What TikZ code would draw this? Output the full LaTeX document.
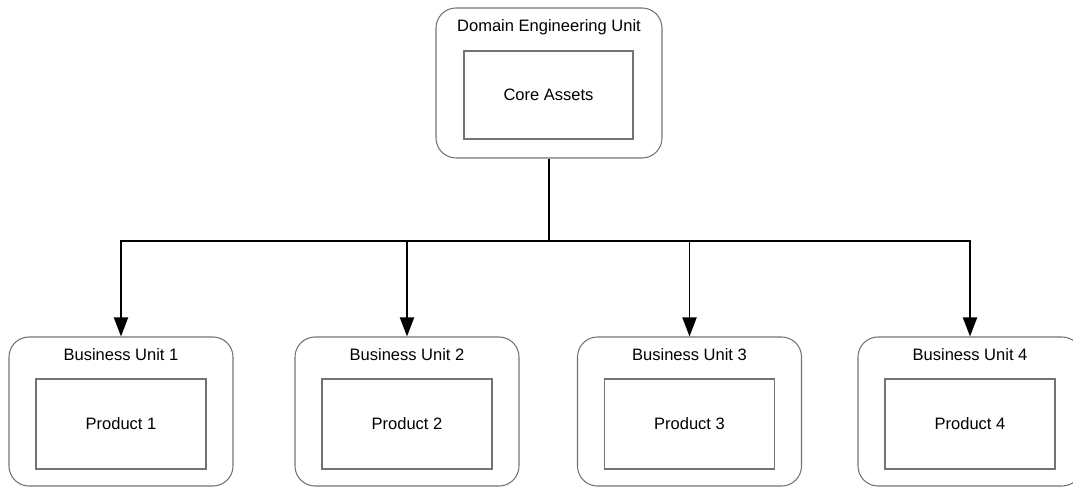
\documentclass[tikz,border=0pt]{standalone}
\usepackage{fontspec}
\setmainfont{Liberation Sans}
\usetikzlibrary{arrows.meta}
\tikzset{
  unit/.style={draw=black!55,rounded corners=0.4cm,line width=0.6pt,minimum width=4.48cm,minimum height=2.98cm},
  part/.style={draw=black!55,line width=0.6pt,minimum width=3.4cm,minimum height=1.8cm,font=\fontsize{9.4}{11}\selectfont},
  ttl/.style={font=\fontsize{9.4}{11}\selectfont},
  trunk/.style={line width=1.1pt},
  feed/.style={line width=1.1pt,-{Triangle[length=3.8mm,width=2.8mm]}}
}
\begin{document}
\begin{tikzpicture}
\useasboundingbox (0,0) rectangle (21.46,-9.74);
\node[unit,minimum width=4.52cm,minimum height=3cm] (deu) at (10.98,-1.66) {};
\node[ttl] (deut) at (10.98,-0.54) {Domain Engineering Unit};
\node[part,minimum width=3.38cm,minimum height=1.76cm] (core) at (10.97,-1.9) {Core Assets};
\coordinate (split) at (10.98,-4.82);
\draw[trunk] (deu.south) -- (split);
\foreach \i/\x in {1/2.42,2/8.14,3/13.79,4/19.40}{
  \node[unit] (bu\i) at (\x,-8.23) {};
  \node[ttl] (but\i) at (\x,-7.1) {Business Unit \i};
  \node[part] (prod\i) at (\x,-8.48) {Product \i};
  \draw[feed] (split) -| (bu\i.north);
}
\end{tikzpicture}
\end{document}
